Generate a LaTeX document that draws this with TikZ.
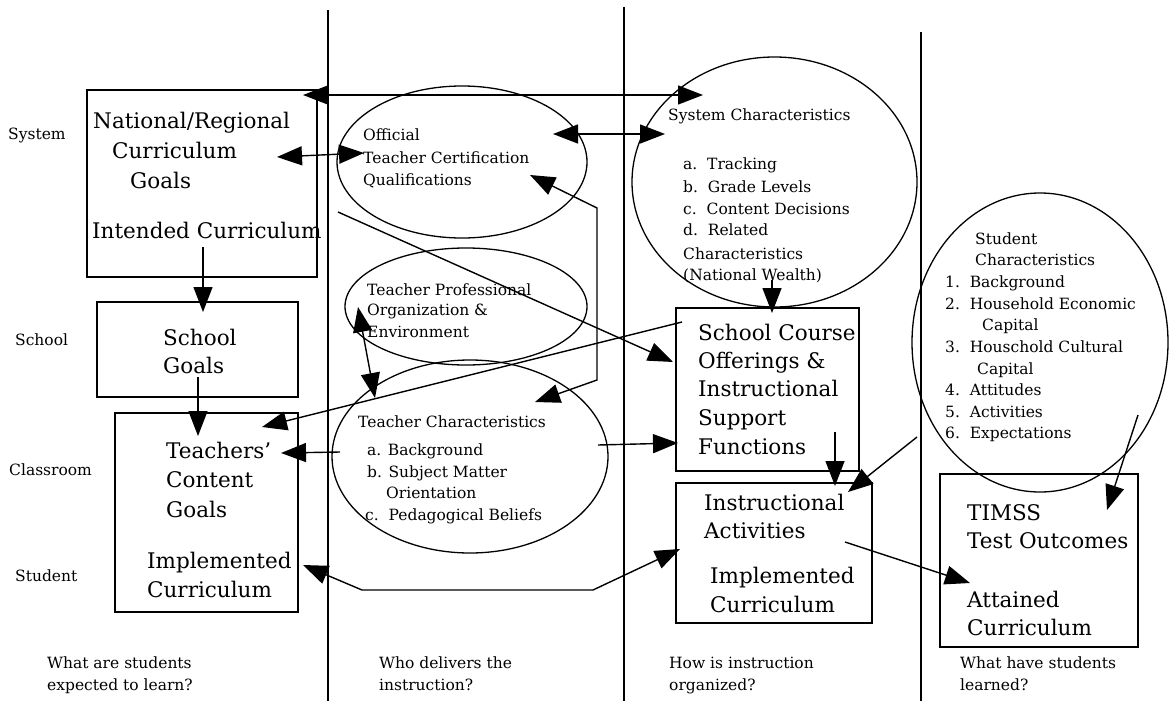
\documentclass[tikz,border=0pt]{standalone}
\usepackage{fontspec}
\setmainfont{DejaVu Serif}
\usetikzlibrary{arrows.meta,shapes.geometric}
\tikzset{
  tri/.tip={Triangle[length=25pt,width=19pt]},
  big/.style={anchor=base west, inner sep=0pt, font=\fontsize{21.5}{25}\selectfont},
  sml/.style={anchor=base west, inner sep=0pt, font=\fontsize{15.5}{19}\selectfont},
  boxst/.style={draw, line width=1.8pt, inner sep=0pt},
  ell/.style={draw, ellipse, line width=1.3pt, inner sep=0pt},
  con/.style={line width=1.4pt},
  ar/.style={con,-tri},
  dar/.style={con,tri-tri},
  divider/.style={line width=1.6pt}
}
\begin{document}
\begin{tikzpicture}[x=1pt,y=-1pt]
\useasboundingbox (0,0) rectangle (1169,701);
% dividers
\coordinate (d1t) at (328,10);  \coordinate (d1b) at (328,701);
\coordinate (d2t) at (624,7);   \coordinate (d2b) at (624,701);
\coordinate (d3t) at (921,32);  \coordinate (d3b) at (921,701);
\draw[divider] (d1t) -- (d1b);
\draw[divider] (d2t) -- (d2b);
\draw[divider] (d3t) -- (d3b);
% boxes
\node[boxst, minimum width=230pt, minimum height=187pt] (nat) at (202,183.5) {};
\node[boxst, minimum width=201pt, minimum height=95pt] (sgoal) at (197.5,349.5) {};
\node[boxst, minimum width=183pt, minimum height=199pt] (tgoal) at (206.5,512.5) {};
\node[boxst, minimum width=183pt, minimum height=163pt] (sco) at (767.5,389.5) {};
\node[boxst, minimum width=196pt, minimum height=140pt] (ins) at (774,553) {};
\node[boxst, minimum width=198pt, minimum height=173pt] (att) at (1039,560.5) {};
% ellipses
\node[ell, minimum width=250pt, minimum height=152pt] (off) at (462,162) {};
\node[ell, minimum width=242pt, minimum height=117pt] (tpo) at (466,306.5) {};
\node[ell, minimum width=276pt, minimum height=193pt] (tch) at (470,456.5) {};
\node[ell, minimum width=285pt, minimum height=250pt] (sys) at (774.5,182) {};
\node[ell, minimum width=256pt, minimum height=299pt] (stu) at (1040,342.5) {};
% row labels
\node[sml] (rl1) at (8,139) {System};
\node[sml] (rl2) at (15,345) {School};
\node[sml] (rl3) at (9,475) {Classroom};
\node[sml] (rl4) at (15,581) {Student};
% big texts
\node[big] (nat1) at (93,128) {National/Regional};
\node[big] (nat2) at (112,158) {Curriculum};
\node[big] (nat3) at (130,188) {Goals};
\node[big] (nat4) at (92,238) {Intended Curriculum};
\node[big] (sg1) at (163,345) {School};
\node[big] (sg2) at (163,373) {Goals};
\node[big] (tc1) at (166,458) {Teachers'};
\node[big] (tc2) at (166,487) {Content};
\node[big] (tc3) at (166,517) {Goals};
\node[big] (tc4) at (147,568) {Implemented};
\node[big] (tc5) at (147,597) {Curriculum};
\node[big] (sc1) at (698,340) {School Course};
\node[big] (sc2) at (698,368) {Offerings \&};
\node[big] (sc3) at (698,396) {Instructional};
\node[big] (sc4) at (698,425) {Support};
\node[big] (sc5) at (698,454) {Functions};
\node[big] (ia1) at (704,510) {Instructional};
\node[big] (ia2) at (704,538) {Activities};
\node[big] (ia3) at (710,583) {Implemented};
\node[big] (ia4) at (710,612) {Curriculum};
\node[big] (at1) at (967,520) {TIMSS};
\node[big] (at2) at (967,548) {Test Outcomes};
\node[big] (at3) at (967,607) {Attained};
\node[big] (at4) at (967,635) {Curriculum};
% small texts
\node[sml] (of1) at (363,140) {Official};
\node[sml] (of2) at (363,163) {Teacher Certification};
\node[sml] (of3) at (363,185) {Qualifications};
\node[sml] (tp1) at (367,295) {Teacher Professional};
\node[sml] (tp2) at (367,315) {Organization \&};
\node[sml] (tp3) at (367,337) {Environment};
\node[sml] (tch1) at (358,427) {Teacher Characteristics};
\node[sml] (tch2) at (367,455) {a. Background};
\node[sml] (tch3) at (367,477) {b. Subject Matter};
\node[sml] (tch4) at (386,498) {Orientation};
\node[sml] (tch5) at (365,520) {c.\ \ Pedagogical Beliefs};
\node[sml] (sy1) at (668,120) {System Characteristics};
\node[sml] (sy2) at (683,169) {a.\ \ Tracking};
\node[sml] (sy3) at (683,192) {b.\ \ Grade Levels};
\node[sml] (sy4) at (683,214) {c.\ \ Content Decisions};
\node[sml] (sy5) at (683,235) {d.\ \ Related};
\node[sml] (sy6) at (683,259) {Characteristics};
\node[sml] (sy7) at (683,280) {(National Wealth)};
\node[sml] (st1) at (975,244) {Student};
\node[sml] (st2) at (975,265) {Characteristics};
\node[sml] (st3) at (945,287) {1.\ \ Background};
\node[sml] (st4) at (945,309) {2.\ \ Household Economic};
\node[sml] (st5) at (982,330) {Capital};
\node[sml] (st6) at (945,352) {3.\ \ Houschold Cultural};
\node[sml] (st7) at (977,374) {Capital};
\node[sml] (st8) at (945,395) {4.\ \ Attitudes};
\node[sml] (st9) at (945,417) {5.\ \ Activities};
\node[sml] (st10) at (945,438) {6.\ \ Expectations};
% questions
\node[sml] (q1a) at (47,668) {What are students};
\node[sml] (q1b) at (47,690) {expected to learn?};
\node[sml] (q2a) at (379,668) {Who delivers the};
\node[sml] (q2b) at (379,690) {instruction?};
\node[sml] (q3a) at (669,668) {How is instruction};
\node[sml] (q3b) at (669,690) {organized?};
\node[sml] (q4a) at (960,668) {What have students};
\node[sml] (q4b) at (960,690) {learned?};
% connector end points
\coordinate (c1a) at (303,95);  \coordinate (c1b) at (703,95);
\coordinate (c2a) at (277,157); \coordinate (c2b) at (364,153);
\coordinate (c3a) at (553,134); \coordinate (c3b) at (665,134);
\coordinate (c4a) at (530,175); \coordinate (c4m) at (597,208); \coordinate (c4n) at (597,380); \coordinate (c4b) at (535,402);
\coordinate (c5a) at (338,212); \coordinate (c5b) at (673,362);
\coordinate (c6a) at (682,322); \coordinate (c6b) at (262,427);
\coordinate (c7a) at (358,307); \coordinate (c7b) at (375,398);
\coordinate (c8a) at (340,452); \coordinate (c8b) at (281,453);
\coordinate (c9a) at (598,445); \coordinate (c9b) at (678,443);
\coordinate (c10a) at (772,280); \coordinate (c10b) at (772,313);
\coordinate (c11a) at (835,432); \coordinate (c11b) at (835,486);
\coordinate (c12a) at (917,437); \coordinate (c12b) at (848,492);
\coordinate (c13a) at (845,542); \coordinate (c13b) at (970,583);
\coordinate (c14a) at (1138,415); \coordinate (c14b) at (1107,510);
\coordinate (c15a) at (203,247); \coordinate (c15b) at (203,312);
\coordinate (c16a) at (198,377); \coordinate (c16b) at (198,436);
\coordinate (c17a) at (303,565); \coordinate (c17m) at (362,590); \coordinate (c17n) at (593,590); \coordinate (c17b) at (680,549);
% connectors
\draw[dar] (c1a) -- (c1b);
\draw[dar] (c2a) -- (c2b);
\draw[dar] (c3a) -- (c3b);
\draw[dar] (c4a) -- (c4m) -- (c4n) -- (c4b);
\draw[ar] (c5a) -- (c5b);
\draw[ar] (c6a) -- (c6b);
\draw[dar] (c7a) -- (c7b);
\draw[ar] (c8a) -- (c8b);
\draw[ar] (c9a) -- (c9b);
\draw[ar] (c10a) -- (c10b);
\draw[ar] (c11a) -- (c11b);
\draw[ar] (c12a) -- (c12b);
\draw[ar] (c13a) -- (c13b);
\draw[ar] (c14a) -- (c14b);
\draw[ar] (c15a) -- (c15b);
\draw[ar] (c16a) -- (c16b);
\draw[dar] (c17a) -- (c17m) -- (c17n) -- (c17b);
\end{tikzpicture}
\end{document}
